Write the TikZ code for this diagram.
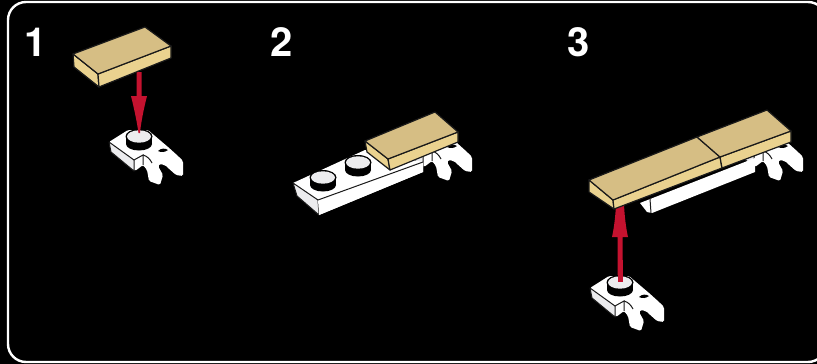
\documentclass[tikz,border=0pt]{standalone}
\usepackage{fontspec}
\setmainfont{TeX Gyre Heros}
\definecolor{tiletop}{HTML}{D6BE84}
\definecolor{tileside}{HTML}{EAD28F}
\definecolor{redarrow}{HTML}{C4122F}
\definecolor{ink}{HTML}{1A1A1A}
\definecolor{paleface}{HTML}{ECECEE}
\tikzset{
  num/.style={text=white,font=\fontsize{40}{40}\selectfont\bfseries,inner sep=0pt,anchor=center},
  tiletopface/.style={fill=tiletop,draw=ink,line width=1.2pt,line join=round},
  tilesideface/.style={fill=tileside,draw=ink,line width=1.2pt,line join=round},
  plateface/.style={fill=paleface,draw=ink,line width=1pt,line join=round},
  whiteface/.style={fill=white,draw=none},
  pics/stud/.style={code={
    \fill[black] (-13,0) rectangle (13,7);
    \fill[black] (0,7) ellipse[x radius=13,y radius=6.5];
    \fill[black] (0,-0.5) ellipse[x radius=13.5,y radius=7.5];
    \fill[paleface] (0,-0.5) ellipse[x radius=12,y radius=6.2];
  }},
  pics/clipbody/.style={code={
    % origin = stud centre of a single clip plate
    \path[whiteface,rounded corners=1.5pt] (-30,5) -- (-11,-7) -- (9,-7) -- (29,10) -- (39,19) -- (44,24) -- (44,39)
      -- (37,38) -- (28,30) .. controls (25,27) and (21,27) .. (19,29)
      -- (24,38) -- (21,48) -- (10,44) -- (8,33) -- (4,28)
      -- (-4,34) -- (-28,14) -- cycle;
    \path[plateface] (-30,5) -- (-5,23) -- (-5,34) -- (-28,15) -- cycle;
    \draw[ink,line width=1pt] (-5,23) -- (4,18) -- (4,28);
    \draw[ink,line width=1pt] (4,18) .. controls (8,19) and (11,22) .. (13,26);
    \fill[black] (19,14) .. controls (22,11) and (26,11) .. (29,13) .. controls (26,15) and (23,16) .. (19,14) -- cycle;
  }},
  pics/clip/.style={code={\pic {clipbody}; \pic {stud};}},
}
\begin{document}
\begin{tikzpicture}[x=1pt,y=-1pt]
\useasboundingbox (0,0) rectangle (817,364);
\fill[black] (0,0) rectangle (817,364);
\draw[white,line width=2.4pt,rounded corners=18pt] (8,2) rectangle (826,362);
\node[num] (n1) at (36,42) {1};
\node[num] (n2) at (282,42) {2};
\node[num] (n3) at (579,42) {3};

% step 1
\pic at (139,137) {clip};
\fill[redarrow] (136.5,72) -- (141.5,72) -- (141.5,96) -- (147,96)
  .. controls (144,108) and (141,122) .. (140,133) -- (138.5,133)
  .. controls (137,122) and (134,108) .. (131,96) -- (136.5,96) -- cycle;
\path[tilesideface] (73,54) -- (98,74) -- (99,87) -- (74,67) -- cycle;
\path[tilesideface] (98,74) -- (171,46) -- (171,58) -- (99,87) -- cycle;
\path[tiletopface] (73,54) -- (145,27) -- (171,46) -- (98,74) -- cycle;

% step 2
\pic at (428,133) {clipbody};
\path[whiteface] (293,183) -- (365,150) -- (423,162) -- (423,172) -- (319,215) -- (297,193) -- cycle;
\path[plateface] (293,183) -- (318,200) -- (319,215) -- (297,196) -- cycle;
\path[whiteface] (318,200) -- (423,162) -- (423,172) -- (319,215) -- cycle;
\draw[ink,line width=1pt] (318,200) -- (423,162);
\pic at (323,178) {stud};
\pic at (358,163) {stud};
\path[tilesideface] (365,141) -- (388,159) -- (390,170) -- (367,152) -- cycle;
\path[tilesideface] (388,159) -- (458,132) -- (458,142) -- (390,170) -- cycle;
\path[tiletopface] (365,141) -- (435,112) -- (458,132) -- (388,159) -- cycle;

% step 3
\pic at (759,133) {clipbody};
\path[whiteface] (640,203) -- (755,158) -- (755,172) -- (652,213) -- (647,212) -- cycle;
\draw[ink,line width=1pt] (650,199) -- (651,213);
\fill[redarrow] (617.5,285) -- (617.5,237) -- (612,237)
  .. controls (614,228) and (615.5,216) .. (616,204) -- (624,204)
  .. controls (624.5,216) and (626,228) .. (628,237) -- (622.5,237) -- (622.5,285) -- cycle;
\path[tilesideface] (589,180) -- (613,200) -- (614,209) -- (589,192) -- cycle;
\path[tilesideface] (613,200) -- (720,157) -- (722,168) -- (614,209) -- cycle;
\path[tilesideface] (720,157) -- (791,131) -- (791,142) -- (722,168) -- cycle;
\path[tiletopface] (589,180) -- (697,137) -- (720,157) -- (613,200) -- cycle;
\path[tiletopface] (697,137) -- (767,110) -- (791,131) -- (720,157) -- cycle;
\pic at (620,283) {clip};
\fill[redarrow] (617.5,282) -- (617.5,260) -- (622.5,260) -- (622.5,282) -- cycle;
\end{tikzpicture}
\end{document}
